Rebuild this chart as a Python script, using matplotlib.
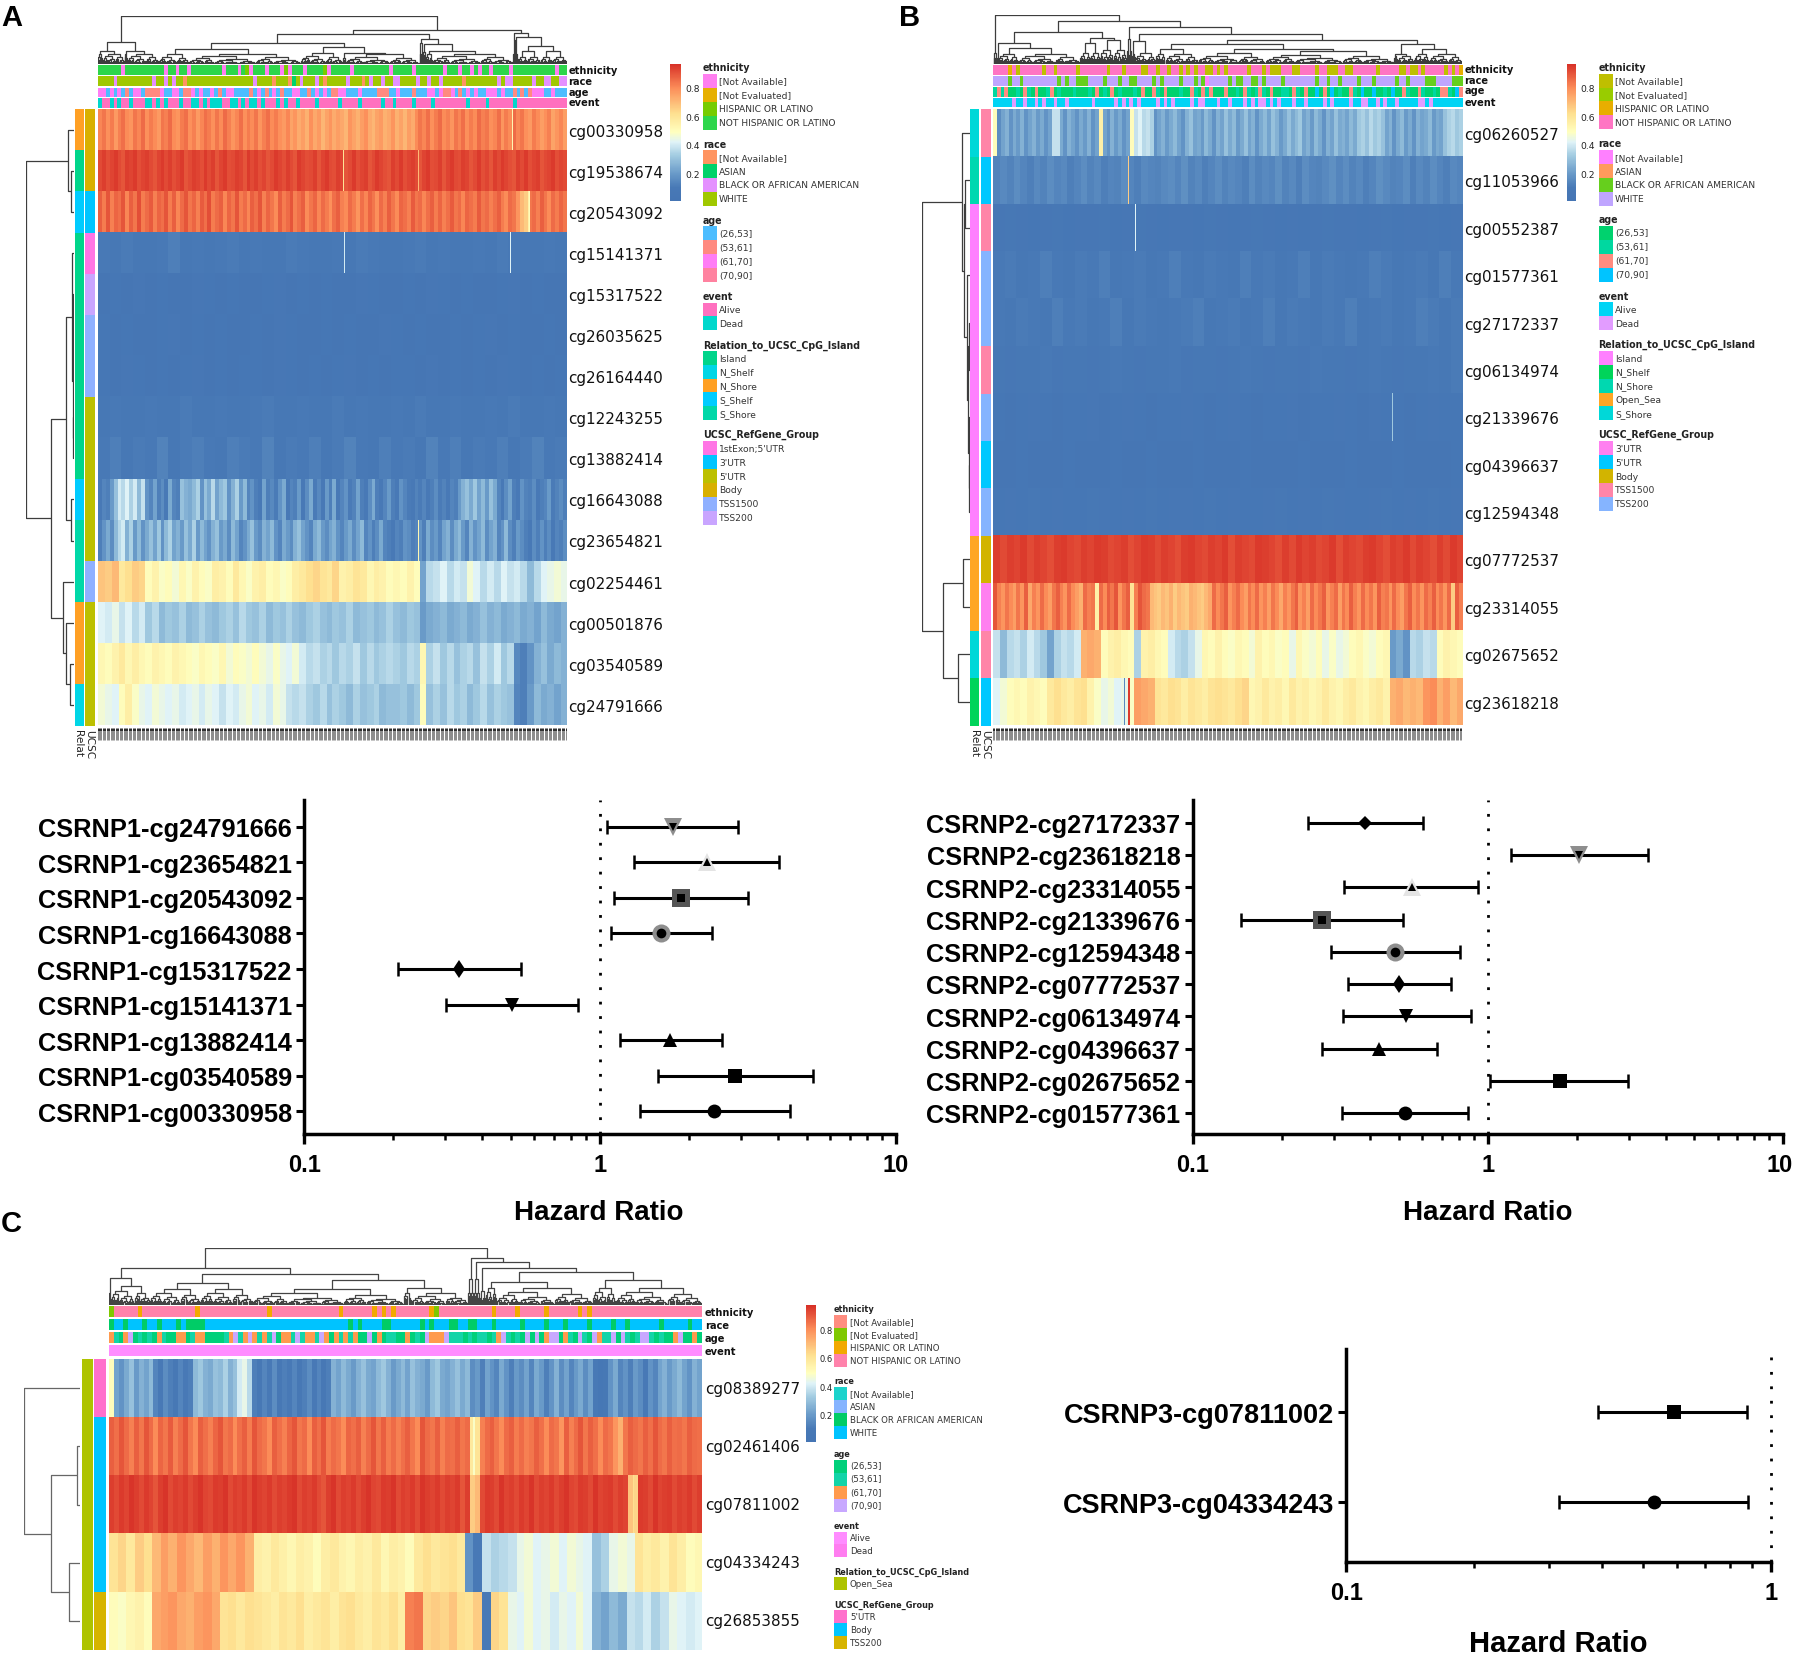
import numpy as np
import matplotlib
matplotlib.use("Agg")
import matplotlib.pyplot as plt
from matplotlib.collections import LineCollection
from matplotlib.colors import LinearSegmentedColormap, Normalize, to_rgb
from matplotlib.patches import Rectangle
from matplotlib.ticker import LogLocator, NullFormatter, FixedFormatter, FixedLocator
from matplotlib.cm import ScalarMappable
from matplotlib.transforms import ScaledTranslation

W, H = 1795, 1656

# ---------- heat-map values (percent methylation, read column band by column band) ----------
ROWS_A = ["cg00330958","cg19538674","cg20543092","cg15141371","cg15317522","cg26035625","cg26164440",
          "cg12243255","cg13882414","cg16643088","cg23654821","cg02254461","cg00501876","cg03540589","cg24791666"]
HEAT_A = [
 [81,84,79,83,77,82,85,80,78,84,81,86,79,83,80,77,84,82,86,80,78,83,85,79,82,77,81,85,83,79,84,80,86,82,78,81,85,79,83,80,84,78,82,85,80,83,79,77,81,75,78,73,76,72,79,74,77,71,75,78,73,76,74,71,78,75,72,76,79,73,71,75,77,72,74,78,72,75,71,76,73,80,84,81,85,79,83,86,80,82,78,84,81,85,79,83,80,86,82,84,79,81,85,78,83,80,86,81,84,79,77,83,80,76,79,82,75,78,81,76],
 [92,94,91,93,95,92,90,94,93,95,91,93,94,92,90,93,95,92,94,91,93,95,90,92,94,93,91,95,92,94,90,93,95,91,92,94,93,90,95,92,94,91,93,90,92,95,93,91,94,92,90,95,93,91,92,94,90,93,95,92,91,94,93,90,92,95,91,93,94,90,92,95,93,91,90,94,92,95,91,93,94,92,90,93,95,91,92,94,90,93,95,92,91,94,93,90,92,95,91,93,90,94,92,95,93,91,90,94,92,95,91,93,94,90,92,93,95,91,93,92],
 [88,83,90,82,87,85,90,81,88,84,91,83,86,89,82,87,85,90,83,88,81,86,90,84,87,82,89,85,91,83,86,88,81,87,84,90,83,86,81,88,85,90,82,87,84,80,88,83,86,90,82,85,88,80,84,87,81,86,83,79,85,88,82,80,86,83,78,85,81,87,84,79,86,82,88,84,80,87,85,82,89,84,86,81,85,88,83,87,82,85,89,84,86,81,87,85,83,89,84,86,82,85,88,83,80,86,84,78,70,66,84,86,82,88,84,80,86,83,87,84],
 [10,9,11,9,8,10,12,9,10,8,10,11,9,10,8,9,11,10,8,9,10,9,11,10,8,9,10,11,8,10,9,8,10,9,11,10,8,9,10,9],
 [5,6,5,7,5,6,5,5,7,6,5,6,5,5,6,7,5,6,5,6,5,5,7,6,5,5,6,5,7,6,5,6,5,5,6,7,5,6,5,5],
 [6,5,6,5,5,6,7,5,6,5,6,5,5,6,5,7,6,5,5,6,5,6,5,5,7,6,5,6,5,5,6,5,6,7,5,6,5,5,6,5],
 [6,5,7,6,5,6,5,6,7,5,6,5,6,6,5,7,6,5,6,5,6,7,5,6,5,6,6,5,7,5,6,5,6,5,7,6,5,6,5,6],
 [8,10,9,8,10,9,8,11,9,8,10,9,8,10,11,8,9,10,8,9,11,8,10,9,8,10,9,11,8,9,10,8,9,10,8,11,9,8,10,9],
 [10,12,9,11,10,13,9,11,12,10,9,12,11,10,13,9,11,10,12,9,11,13,10,9,12,10,11,9,13,10,12,9,11,10,12,9,11,13,10,11],
 [10,14,12,20,30,40,36,42,34,40,28,38,18,14,22,12,16,10,24,14,12,30,26,24,28,34,18,30,24,36,22,28,32,18,26,34,20,28,14,18,12,10,22,12,15,11,18,24,10,14,12,20,10,16,24,11,15,10,20,12,24,10,14,18,11,13,22,12,10,16,24,12,10,14,20,12,10,18,14,11,10,13,11,14,10,12,16,11,13,10,14,12,20,26,30,24,32,22,28,20,30,24,14,10,16,22,12,10,18,13,12,16,10,12,14,20,11,13,16,12],
 [12,18,24,16,28,36,40,26,34,20,28,18,24,30,22,32,18,28,34,22,26,20,30,24,34,20,28,22,18,26,30,20,24,16,28,22,14,18,24,30,20,16,26,22,28,18,14,24,20,16,26,30,22,18,14,24,28,20,16,22,26,18,14,20,24,16,22,28,14,18,12,16,24,14,12,10,14,12,18,16,12,14,18,12,24,16,20,14,22,26,16,24,28,20,14,26,18,22,28,16,22,26,14,18,28,16,12,20,16,12,10,16,12,18,12,16,10,14,12,16],
 [68,66,70,58,62,66,64,50,54,48,50,46,52,48,54,50,48,56,54,50,58,52,48,54,56,50,52,48,50,56,58,62,64,60,58,64,54,56,60,58,52,56,54,50,52,50,54,50,22,36,38,42,36,40,38,46,42,36,40,36,42,38,40,36,28,36,42,44,46,44],
 [42,40,44,38,42,36,40,32,36,28,32,30,34,28,30,34,30,28,32,34,30,36,32,30,34,28,32,30,34,30,28,32,34,30,28,32,30,34,28,30,32,28,30,34,30,28,32,30,20,24,26,28,24,26,28,24,26,30,26,28,24,26,28,24,26,22,28,24,22,26],
 [52,50,54,58,52,56,52,50,54,52,50,54,52,50,48,52,50,48,52,46,50,48,46,50,46,44,48,44,42,46,40,36,38,34,36,32,36,34,38,32,36,32,34,36,34,32,36,34,52,34,38,32,36,30,34,36,30,38,34,40,32,36,15,12,18,26,30,24,28,26],
 [46,44,42,50,56,48,44,42,46,44,42,44,40,42,44,40,44,42,38,42,40,44,46,42,44,40,46,44,38,36,38,34,32,36,30,34,32,28,34,30,32,34,28,30,30,32,28,32,50,30,34,30,36,32,34,28,32,36,30,34,32,30,14,12,20,28,24,26,22,26],
]
OUTLIERS_A_ROW = [1, 1, 0, 2, 2, 3, 3, 9, 10]
OUTLIERS_A_POS = [0.523, 0.684, 0.885, 0.918, 0.920, 0.526, 0.881, 0.682, 0.684]
OUTLIERS_A_VAL = [60, 70, 52, 55, 50, 40, 42, 46, 52]

ROWS_B = ["cg06260527","cg11053966","cg00552387","cg01577361","cg27172337","cg06134974","cg21339676",
          "cg04396637","cg12594348","cg07772537","cg23314055","cg02675652","cg23618218"]
HEAT_B = [
 [50,16,22,26,18,24,20,26,18,22,26,20,24,18,22,38,38,24,18,26,22,18,24,20,26,18,22,55,22,18,26,20,24,18,22,50,38,42,36,38,34,18,22,26,20,24,28,22,18,26,30,22,24,20,28,24,18,26,22,30,24,28,20,24,30,22,26,18,24,28,22,30,26,20,24,30,24,28,32,22,26,20,28,24,18,26,22,30,24,26,22,28,24,32,34,30,36,32,34,30,22,26,18,24,28,20,24,18,26,22,24,28,20,24,22,30,34,36,32,34],
 [13,15,13,16,14,12,15,13,16,14,15,12,14,16,13,15,12,14,13,16,14,12,15,14,13,15,16,14,17,13,15,12,14,16,13,15,14,12,16,13,15,14,17,13,15,12,16,14,13,15,17,14,16,13,15,12,14,17,15,13,14,16,12,15,13,16,14,12,15,14],
 [7,8,7,6,7,8,6,7,7,8,6,7,8,7,6,7,7,6,8,7,6,7,8,7,6,7,6,7,8,7,7,6,7,8,6,7,7,8,6,7],
 [10,11,9,10,12,10,9,11,10,12,9,10,11,9,10,12,10,9,11,10,9,12,10,11,9,10,12,9,11,10,9,10,12,11,9,10,11,9,12,10],
 [10,9,11,10,9,12,10,11,9,10,12,9,11,10,9,10,11,12,9,10,11,9,10,12,9,11,10,9,11,10,12,9,10,11,9,10,12,11,9,11],
 [8,7,9,8,10,7,8,9,7,8,10,8,7,9,8,10,7,9,8,7,9,10,8,7,8,9,7,10,8,9,7,8,10,9,7,8,9,10,8,11],
 [6,5,6,7,6,5,6,6,7,5,6,7,6,5,6,6,7,6,5,6,7,6,5,6,6,7,5,6,6,7,6,5,7,6,6,5,6,7,6,6],
 [5,5,6,5,4,5,6,5,5,4,6,5,5,6,4,5,5,6,5,4,5,6,5,4,5,5,6,4,5,5,6,5,5,4,6,5,5,4,5,6],
 [6,7,6,8,6,7,6,6,8,7,6,7,6,8,6,7,7,6,8,6,7,6,6,7,8,6,7,6,8,7,6,6,7,8,6,7,6,8,6,7],
 [94,92,94,93,95,92,94,93,91,94,95,93,92,94,93,95,94,92,93,94,91,93,95,94,92,94,93,91,94,95,93,92,94,93,95,91,94,93,92,95,94,93,91,94,92,95,93,94,92,93,95,91,94,93,92,94,95,93,91,94,93,95,92,94,93,91,94,92,95,93],
 [90,82,78,84,80,76,84,78,88,74,82,78,86,80,76,84,88,82,78,86,80,76,72,86,82,84,55,86,80,88,84,90,78,84,88,60,82,90,86,84,70,68,66,70,68,72,66,70,68,66,72,70,68,66,70,74,86,80,84,88,78,82,86,80,76,84,80,86,78,82,76,84,80,74,82,78,84,88,78,82,76,86,80,84,88,78,82,86,76,84,80,88,82,78,86,80,84,78,88,82,84,78,86,80,76,84,88,80,84,78,86,82,88,80,84,78,86,66,88,82],
 [38,28,36,38,34,40,36,32,22,34,38,36,40,72,74,72,50,54,56,52,50,34,54,56,52,50,40,36,34,38,44,52,50,54,50,48,52,50,46,54,50,52,48,50,44,52,48,46,50,44,48,44,46,50,52,48,46,50,52,20,24,18,36,34,38,36,50,54,52,50],
 [42,46,50,52,50,54,52,50,58,62,58,56,60,62,54,48,44,46,42,44,48,76,74,72,60,58,62,60,56,60,58,56,60,62,60,58,62,64,52,54,58,54,56,52,58,54,56,52,54,58,54,52,56,58,54,52,56,58,54,72,74,70,72,70,78,80,72,76,70,74],
]
OUTLIERS_B_ROW = [1, 2, 6, 12, 12, 12]
OUTLIERS_B_POS = [0.288, 0.304, 0.852, 0.281, 0.288, 0.291]
OUTLIERS_B_VAL = [66, 42, 32, 15, 95, 95]

ROWS_C = ["cg08389277","cg02461406","cg07811002","cg04334243","cg26853855"]
HEAT_C = [
 [50,22,18,24,30,20,26,22,28,14,10,16,12,8,14,10,12,28,32,26,24,30,28,34,26,30,40,44,36,12,8,14,10,16,8,12,10,14,8,12,16,10,14,8,12,26,22,28,24,20,26,30,24,22,28,32,26,20,24,28,22,30,26,24,20,28,32,24,22,26,30,24,28,16,20,12,22,18,14,24,18,12,20,16,22,14,24,20,12,18,26,16,22,14,20,24,16,22,10,6,8,18,24,14,18,12,20,16,10,18,14,22,26,20,24,28,22,18,26,22],
 [88,85,90,86,82,88,84,90,86,80,87,84,89,82,86,90,84,80,88,85,82,87,90,84,86,80,85,88,83,90,86,84,80,88,85,82,87,90,84,86,80,88,85,90,83,86,84,80,87,85,88,82,86,90,84,88,83,86,82,85,88,84,80,90,86,84,88,82,86,85,88,84,86,58,60,82,86,88,84,80,86,88,83,86,82,84,88,85,80,86,84,78,88,82,86,90,84,88,85,80,86,84,78,72,84,88,86,84,88,85,90,86,84,88,85,86,84,88,86,85],
 [94,92,95,93,96,94,92,95,93,90,94,96,92,94,93,95,92,94,96,93,92,95,94,96,92,94,93,95,92,96,94,93,95,92,94,93,95,96,92,94,93,95,92,90,94,96,92,94,93,95,92,94,96,93,92,95,94,96,92,94,93,95,92,96,94,93,95,92,94,93,95,90,94,66,70,92,95,94,92,96,93,94,92,95,93,96,92,94,93,95,92,94,96,93,92,95,94,92,96,93,94,95,92,94,93,68,64,95,94,92,96,93,94,95,92,94,93,95,92,94],
 [60,64,58,66,62,70,76,72,78,74,70,76,72,78,74,78,72,56,54,58,55,52,56,54,50,56,58,54,52,56,54,58,52,56,54,50,58,62,58,60,62,58,18,10,38,34,36,38,44,46,42,44,46,42,46,44,42,30,34,44,46,44,60,56,58,54,60,56,50,52],
 [50,48,52,54,50,74,76,78,74,72,76,78,74,60,62,58,62,60,58,56,60,58,62,56,58,60,56,60,62,58,56,60,58,62,56,82,84,64,66,64,68,62,60,66,10,64,60,44,42,46,42,44,40,44,42,46,42,26,22,28,24,38,36,40,34,38,44,42,40,42],
]
OUTLIERS_C_ROW = [1, 2]
OUTLIERS_C_POS = [0.615, 0.884]
OUTLIERS_C_VAL = [48, 62]

# ---------- row annotations (category index, top to bottom) ----------
REL_A = [2,0,3,0,0,0,0,0,0,3,4,4,2,2,1]
REF_A = [3,3,1,0,5,4,4,2,2,2,2,4,2,2,2]
REL_B = [4,2,0,0,0,0,0,0,0,3,3,4,1]
REF_B = [3,1,3,4,4,3,4,1,4,2,0,3,1]
REL_C = [0,0,0,0,0]
REF_C = [0,1,1,1,2]

# ---------- column annotations (one digit per column band; digit = legend position) ----------
ETH_A = "3333330333333333303303303333333303330320333033302033303333203333303333333330333330333333303330330303303333033333333333033"
RACE_A= "3333233333333323323233033333333333333333233330333013233323033333233303233233223333233233233333033333333232233333233223322"
AGE_A = "2202020102201111200220112020020102200001020102010022001020201122000200001110020001000220211201020200222020010101222002000"
EVT_A = "1001010010001101010001001101011100110101101000101001000010000010000100000100100001000010000000010000100000010000000000000"
ETH_B = "3333230333333033033333033333330333033330033033033030303300303033333033303000333003333033000330033333303333300300303333303032"
RACE_B= "3333233233333333323233222333323332332233332323333233323203333323223322323333233333333233233233332333233333233233332223333222"
AGE_B = "1212001021020012010001000102010201000102002102000100210212000200102101210200110210200302030100210300300103002100210010221032"
EVT_B = "0000010010010100100100000010000010101010000101010000101100010010001010110101000100100001010000100110010100100000110100000000"
ETH_C = "1333332333333333332333333333333332333333333333332333333232323333333213333333333323333233333233333323233333333333333333333333"
RACE_C= "2332333233233323222233333333333333333333333333333323233332233333323233322332233323333323333233323333233332332333333233333233"
AGE_C = "2102301010210022012200001231232121302213122132021212003020110020103222311101011012310103030233021031032113031013310100230020"
EVT_C = "0000000000000000000000000000000000000000000000000000000000000000000000000000000000000000000000000000000000000000000000000000"

# ---------- legends ----------
LEG_A = [("ethnicity",["[Not Available]","[Not Evaluated]","HISPANIC OR LATINO","NOT HISPANIC OR LATINO"],["#FF7FF0","#E6B000","#76CC00","#2DD64B"]),
         ("race",["[Not Available]","ASIAN","BLACK OR AFRICAN AMERICAN","WHITE"],["#FF9460","#00D26A","#E490FF","#A0C800"]),
         ("age",["(26,53]","(53,61]","(61,70]","(70,90]"],["#4DBDFF","#FF8A80","#FF7DF5","#FF82A0"]),
         ("event",["Alive","Dead"],["#FF70BF","#00D8CC"]),
         ("Relation_to_UCSC_CpG_Island",["Island","N_Shelf","N_Shore","S_Shelf","S_Shore"],["#00D58A","#00D6E6","#FFA024","#00CCFF","#00D8A8"]),
         ("UCSC_RefGene_Group",["1stExon;5'UTR","3'UTR","5'UTR","Body","TSS1500","TSS200"],["#FF75E5","#00C5FF","#BCC000","#D8B000","#8FB0FF","#C9A5FF"])]
LEG_B = [("ethnicity",["[Not Available]","[Not Evaluated]","HISPANIC OR LATINO","NOT HISPANIC OR LATINO"],["#BFBF00","#99CC00","#E8AE00","#FF75C3"]),
         ("race",["[Not Available]","ASIAN","BLACK OR AFRICAN AMERICAN","WHITE"],["#FF80FF","#FF9A5C","#66CF1D","#BFA5FF"]),
         ("age",["(26,53]","(53,61]","(61,70]","(70,90]"],["#00D26E","#00D8A0","#FF8C80","#00C4FF"]),
         ("event",["Alive","Dead"],["#00D4F5","#E29CFF"]),
         ("Relation_to_UCSC_CpG_Island",["Island","N_Shelf","N_Shore","Open_Sea","S_Shore"],["#FF80FF","#00D45A","#00D8B0","#FFA624","#00D8D8"]),
         ("UCSC_RefGene_Group",["3'UTR","5'UTR","Body","TSS1500","TSS200"],["#FF80F0","#00C8FF","#D2B400","#FF85A8","#85B4FF"])]
LEG_C = [("ethnicity",["[Not Available]","[Not Evaluated]","HISPANIC OR LATINO","NOT HISPANIC OR LATINO"],["#FF8D80","#7FC800","#F2A900","#FF82AB"]),
         ("race",["[Not Available]","ASIAN","BLACK OR AFRICAN AMERICAN","WHITE"],["#1BD3CC","#85B4FF","#00CC66","#00C3FF"]),
         ("age",["(26,53]","(53,61]","(61,70]","(70,90]"],["#00D07A","#12D4A8","#FF9A4D","#C8A8FF"]),
         ("event",["Alive","Dead"],["#FF8CFF","#FF7DF0"]),
         ("Relation_to_UCSC_CpG_Island",["Open_Sea"],["#AEC300"]),
         ("UCSC_RefGene_Group",["5'UTR","Body","TSS200"],["#FF70CC","#00C5FF","#D6B400"])]

# ---------- dendrograms: node=(height,left,right); cluster=(width,height); row leaf=int ----------
TREE_COL_A = (1.0,
  (.455,(.28,(14,.2),(66,.22)),(.28,(8,.2),(95,.22))),
  (.72,
    (.62,
      (.43,(.31,(90,.2),(335,.22)),(.35,(125,.24),(.24,(10,.12),(220,.2)))),
      (.525,(.45,(4,.2),(6,.2)),(.42,(8,.25),(.28,(20,.2),(242,.22))))),
    (.65,(.5,(4,.2),(4,.2)),(.56,(4,.2),(.385,(.27,(30,.15),(40,.15)),(.27,(35,.15),(44,.15)))))))
TREE_COL_B = (1.0,
  (.22,(5,.12),(7,.12)),
  (.868,
    (.653,
      (.43,(3,.1),(.326,(60,.2),(185,.2))),
      (.535,(.43,(30,.22),(30,.22)),(.486,(40,.28),(40,.28)))),
    (.743,(.5,(7,.25),(8,.25)),
      (.604,(.465,(10,.2),(60,.22)),
        (.486,
          (.396,(.3,(30,.2),(100,.2)),(.29,(200,.22),(385,.25))),
          (.41,(.2,(10,.15),(50,.15)),(.305,(45,.2),(100,.2))))))))
TREE_COL_C = (1.0,
  (.647,
    (.47,(4,.2),(101,.33)),
    (.54,(.376,(130,.28),(135,.28)),(.435,(385,.276),(.29,(20,.2),(145,.2))))),
  (.818,(.45,(7,.2),(8,.2)),
    (.76,(.45,(7,.2),(8,.2)),
      (.64,(.25,(7,.12),(8,.12)),
        (.57,(.394,(30,.3),(245,.3)),(.44,(60,.3),(220,.3)))))))
TREE_ROW_A = (1.0,(.117,0,(.069,1,2)),
  (.483,(.166,(.05,3,(.03,(.02,4,(.012,5,6)),(.015,7,8))),(.069,9,10)),(.234,11,(.166,12,(.083,13,14)))))
TREE_ROW_B = (1.0,(.152,0,(.11,(.1,1,2),(.05,3,(.03,(.02,4,5),(.02,6,(.012,7,8)))))),
  (.552,(.138,9,10),(.241,11,12)))
TREE_ROW_C = (1.0,0,(.523,(.045,1,2),(.205,3,4)))

# ---------- forest plots (hazard ratio, lower, upper) ----------
FA_LABELS = ["CSRNP1-cg00330958","CSRNP1-cg03540589","CSRNP1-cg13882414","CSRNP1-cg15141371","CSRNP1-cg15317522",
             "CSRNP1-cg16643088","CSRNP1-cg20543092","CSRNP1-cg23654821","CSRNP1-cg24791666"]
FA_HR = [2.44,2.86,1.73,0.505,0.334,1.61,1.88,2.30,1.77]
FA_LO = [1.37,1.57,1.17,0.302,0.208,1.09,1.12,1.30,1.06]
FA_HI = [4.39,5.25,2.58,0.840,0.542,2.40,3.17,4.03,2.94]
FB_LABELS = ["CSRNP2-cg01577361","CSRNP2-cg02675652","CSRNP2-cg04396637","CSRNP2-cg06134974","CSRNP2-cg07772537",
             "CSRNP2-cg12594348","CSRNP2-cg21339676","CSRNP2-cg23314055","CSRNP2-cg23618218","CSRNP2-cg27172337"]
FB_HR = [0.525,1.75,0.427,0.529,0.501,0.486,0.274,0.551,2.04,0.384]
FB_LO = [0.320,1.02,0.275,0.323,0.336,0.294,0.146,0.326,1.20,0.245]
FB_HI = [0.856,2.99,0.673,0.879,0.752,0.804,0.515,0.927,3.50,0.602]
FC_LABELS = ["CSRNP3-cg04334243","CSRNP3-cg07811002"]
FC_HR = [0.530,0.589]
FC_LO = [0.317,0.392]
FC_HI = [0.881,0.879]
MARKER_STYLES = ["o","s","^","v","d","og","sg","^l","vg","D"]

# ---------------------------------------------------------------------------
def _st(v):
    return (v-0.01)/0.96
CMAP = LinearSegmentedColormap.from_list("rdylbu",
        [(_st(.01),"#4575B4"),(_st(.10),"#4879B6"),(_st(.20),"#6A9BC9"),(_st(.33),"#A5CDE2"),(_st(.42),"#E0F3F8"),
         (_st(.49),"#FFFFBF"),(_st(.62),"#FEE090"),(_st(.80),"#FC8D59"),(_st(.97),"#D73027")])
NORM = Normalize(0.01, 0.97)
GRID = 480
SANS = "DejaVu Sans"
BOLD = "Liberation Sans"
DLW = 0.9

fig = plt.figure(figsize=(W/100, H/100), dpi=100, facecolor="white")

def axpx(x0, y0, x1, y1, **kw):
    return fig.add_axes([x0/W, 1-y1/H, (x1-x0)/W, (y1-y0)/H], **kw)

ov = fig.add_axes([0, 0, 1, 1], zorder=20)
ov.set_xlim(0, W); ov.set_ylim(H, 0); ov.axis("off"); ov.patch.set_alpha(0)

def heat(x0, y0, x1, y1, rows, row_out, pos_out, val_out):
    arr = np.zeros((len(rows), GRID))
    for i, r in enumerate(rows):
        r = np.asarray(r, float)
        arr[i] = r[(np.arange(GRID)*len(r)//GRID)]
    for r, p, v in zip(row_out, pos_out, val_out):
        arr[r, min(int(p*GRID), GRID-1)] = v
    ax = axpx(x0, y0, x1, y1)
    ax.imshow(arr/100, cmap=CMAP, norm=NORM, aspect="auto", interpolation="nearest")
    ax.axis("off")

def track(x0, y0, x1, y1, s, cols):
    rgb = np.array([[to_rgb(cols[int(c)]) for c in s]])
    ax = axpx(x0, y0, x1, y1)
    ax.imshow(rgb, aspect="auto", interpolation="nearest")
    ax.axis("off")

def expand(w, h, depth=0):
    """fine bushes of a dendrogram cluster, hanging from the cluster's top merge"""
    if w < 3.2:
        return (w,)
    f = .38 if depth % 2 else .6
    return (h, expand(w*f, h*.74, depth+1), expand(w*(1-f), h*.62, depth+1))

def layout(node, x, segs, size=None):
    if isinstance(node, int):            # row leaf
        return node + .5, 0.0, x
    if len(node) == 1:                   # single column band
        return x + node[0]/2, 0.0, x + node[0]
    if len(node) == 2:                   # cluster
        node = expand(node[0], node[1])
        if len(node) == 1:
            return x + node[0]/2, 0.0, x + node[0]
    h, l, r = node
    xl, hl, x = layout(l, x, segs)
    xr, hr, x = layout(r, x, segs)
    segs.append([(xl, hl), (xl, h), (xr, h), (xr, hr)])
    return (xl+xr)/2, h, x

def col_dendro(x0, y0, x1, y1, tree, color="#3d3d3d"):
    segs = []
    _, _, total = layout(tree, 0.0, segs)
    ax = axpx(x0, y0, x1, y1)
    ax.add_collection(LineCollection(segs, colors=color, linewidths=DLW))
    ax.set_xlim(0, total); ax.set_ylim(0, 1); ax.axis("off")

def row_dendro(x0, y0, x1, y1, tree, n, color="#3d3d3d"):
    segs = []
    layout(tree, 0.0, segs)
    segs = [[(h, y) for y, h in s] for s in segs]
    ax = axpx(x0, y0, x1, y1)
    ax.add_collection(LineCollection(segs, colors=color, linewidths=DLW))
    ax.set_xlim(1, 0); ax.set_ylim(n, 0); ax.axis("off")

def row_annot(x0, x1, y0, y1, idx, cols):
    h = (y1-y0)/len(idx)
    for i, k in enumerate(idx):
        ov.add_patch(Rectangle((x0, y0+i*h), x1-x0, h+.3, fc=cols[k], ec="none"))

def row_labels(x, y0, y1, names, size=10.9, dy=1.5):
    h = (y1-y0)/len(names)
    for i, n in enumerate(names):
        ov.text(x, y0+(i+.5)*h+dy, n, fontsize=size, family=SANS, va="center", ha="left", color="#111111")

def cbar(x0, y0, x1, y1, size=6.6):
    ax = axpx(x0, y0, x1, y1)
    cb = fig.colorbar(ScalarMappable(norm=NORM, cmap=CMAP), cax=ax, ticks=[.2, .4, .6, .8])
    cb.outline.set_visible(False)
    cb.ax.tick_params(length=0, labelsize=size, pad=3, labelcolor="#222222")
    return cb

def legend(x_sw, sw_w, x_txt, ys, sw_h, legs, size, hsize):
    k = 0
    for head, names, cols in legs:
        ov.text(x_sw, ys[k], head, fontsize=hsize, family=SANS, va="center", ha="left",
                color="#222222", fontweight="bold")
        k += 1
        for nm, c in zip(names, cols):
            ov.add_patch(Rectangle((x_sw, ys[k]-sw_h/2), sw_w, sw_h, fc=c, ec="none"))
            ov.text(x_txt, ys[k], nm, fontsize=size, family=SANS, va="center", ha="left", color="#333333")
            k += 1

def band(x0, x1, y0, y1, y2):
    xs = np.arange(x0, x1, 1.3)
    ov.vlines(xs, y0, y1, colors="#2a2a2a", linewidths=.7)
    ov.vlines(xs, y1, y2, colors="#8a8a8a", linewidths=.7)

def forest(x0, x1, ytop, ybot, y_first, dy, labels, hr, lo, hi, xlim, xticks, xticklabels,
           lab_size, tick_size, title_size, xlabel_xy, last_shift=0):
    ax = axpx(x0, ytop, x1, ybot)
    ax.set_xscale("log"); ax.set_xlim(*xlim)
    ax.set_ylim((y_first-ybot)/dy*1.0, (y_first-ytop)/dy)
    ys = np.arange(len(labels))
    ax.axvline(1, color="black", lw=2.0, ls=(0, (1, 4.2)), zorder=1, clip_on=False)
    for y, h, l, u, st in zip(ys, hr, lo, hi, MARKER_STYLES):
        ax.errorbar(h, y, xerr=[[h-l], [u-h]], fmt="none", ecolor="black", elinewidth=2.2,
                    capsize=4.7, capthick=1.8, zorder=3)
        m = st[0]
        if len(st) == 1:
            ax.plot(h, y, m, color="black", ms={"d": 9.5, "D": 7.6, "^": 9.5, "v": 9.5, "s": 10, "o": 10}[m], mew=0, zorder=4)
        else:
            outer = {"g": "#8e8e8e", "l": "#e4e4e4"}[st[1]]
            if m == "s":
                outer = "#555555"
            ax.plot(h, y, m, color=outer, ms=13 if m != "^" else 12.5, mew=0, zorder=4)
            ax.plot(h, y, m, color="black", ms=6 if m != "o" else 7, mew=0, zorder=5)
    for s in ("top", "right"):
        ax.spines[s].set_visible(False)
    for s in ("left", "bottom"):
        ax.spines[s].set_linewidth(2.5)
    ax.xaxis.set_major_locator(FixedLocator(xticks))
    ax.xaxis.set_major_formatter(FixedFormatter(xticklabels))
    ax.xaxis.set_minor_locator(LogLocator(base=10, subs=np.arange(2, 10), numticks=30))
    ax.xaxis.set_minor_formatter(NullFormatter())
    ax.tick_params(axis="x", which="major", length=7, width=2.4, pad=6.5)
    ax.tick_params(axis="x", which="minor", length=4.4, width=1.8)
    ax.set_yticks(ys); ax.set_yticklabels(labels)
    ax.tick_params(axis="y", length=6, width=2.2, pad=3)
    for t in ax.get_xticklabels():
        t.set_fontsize(tick_size); t.set_fontfamily(BOLD); t.set_fontweight("bold")
    for t in ax.get_yticklabels():
        t.set_fontsize(lab_size); t.set_fontfamily(BOLD); t.set_fontweight("bold")
    if last_shift:
        t = ax.get_xticklabels()[-1]
        t.set_transform(t.get_transform() + ScaledTranslation(last_shift/100, 0, fig.dpi_scale_trans))
    ax.patch.set_alpha(0)
    ov.text(xlabel_xy[0], xlabel_xy[1], "Hazard Ratio", fontsize=title_size, family=BOLD,
            fontweight="bold", ha="center", va="center", color="black")

# ---- panel A ----
AT, AB = 110.3, 726.3
col_dendro(97.6, 17.3, 566.6, 65, TREE_COL_A)
track(97.6, 66.2, 566.6, 76.1, ETH_A, LEG_A[0][2])
track(97.6, 77.1, 566.6, 87.1, RACE_A, LEG_A[1][2])
track(97.6, 88.5, 566.6, 97.5, AGE_A, LEG_A[2][2])
track(97.6, 98.7, 566.6, 108.7, EVT_A, LEG_A[3][2])
heat(97.6, AT, 566.6, AB, HEAT_A, OUTLIERS_A_ROW, OUTLIERS_A_POS, OUTLIERS_A_VAL)
row_dendro(26, AT, 74, AB, TREE_ROW_A, 15)
row_annot(74.6, 83.8, AT, AB, REL_A, LEG_A[4][2])
row_annot(85, 95.3, AT, AB, REF_A, LEG_A[5][2])
row_labels(568.5, AT, AB, ROWS_A)
band(97.6, 566.6, 728.7, 732, 741)
cbar(670, 64.7, 681, 201.5)
ys_a = [68.1,82.1,96,109.9,123.9,144.8,158.2,172.1,186,200,220.9,234.3,248.2,262.2,276.1,297,310.9,324.3,
        345.7,359.2,373.1,387,400.4,414.4,435.3,449.2,463.1,477.1,491,505,518.8]
legend(703, 14.4, 719, ys_a, 14, LEG_A, 6.55, 6.85)
for nm, y in zip(["ethnicity", "race", "age", "event"], [70.6, 81.6, 92.5, 103]):
    ov.text(568.5, y, nm, fontsize=7.1, family=SANS, fontweight="bold", va="center", color="#111111")
ov.text(78, 730, "Relat", rotation=-90, fontsize=7.6, family=SANS, va="top", ha="center", color="#222222")
ov.text(89, 730, "UCSC", rotation=-90, fontsize=7.6, family=SANS, va="top", ha="center", color="#222222")

# ---- panel B ----
col_dendro(993, 16, 1462.2, 64.5, TREE_COL_B)
track(993, 65.7, 1462.2, 75.6, ETH_B, LEG_B[0][2])
track(993, 76.6, 1462.2, 86.6, RACE_B, LEG_B[1][2])
track(993, 88, 1462.2, 97.5, AGE_B, LEG_B[2][2])
track(993, 98.5, 1462.2, 108, EVT_B, LEG_B[3][2])
heat(993, AT, 1462.2, AB, HEAT_B, OUTLIERS_B_ROW, OUTLIERS_B_POS, OUTLIERS_B_VAL)
row_dendro(921.7, AT, 969.6, AB, TREE_ROW_B, 13)
row_annot(970.2, 979.3, AT, AB, REL_B, LEG_B[4][2])
row_annot(981, 991.3, AT, AB, REF_B, LEG_B[5][2])
row_labels(1464.5, AT, AB, ROWS_B)
band(993, 1462.2, 728.7, 732, 741)
cbar(1566.7, 64.7, 1576.4, 201.5)
ys_b = [67.7,81.6,95.5,109.4,123.4,144.3,158.2,172.1,186,199.5,220.4,233.8,247.7,261.7,275.6,296.5,310.4,324.3,
        345.2,359.2,373.1,387,400.9,414.4,435.3,449.2,463.1,477.1,491,505]
legend(1598.6, 14, 1615, ys_b, 14, LEG_B, 6.55, 6.85)
for nm, y in zip(["ethnicity", "race", "age", "event"], [70.1, 80.6, 91.5, 102.5]):
    ov.text(1464.5, y, nm, fontsize=7.1, family=SANS, fontweight="bold", va="center", color="#111111")
ov.text(974, 730, "Relat", rotation=-90, fontsize=7.6, family=SANS, va="top", ha="center", color="#222222")
ov.text(985, 730, "UCSC", rotation=-90, fontsize=7.6, family=SANS, va="top", ha="center", color="#222222")

# ---- panel C ----
col_dendro(109, 1249, 701.5, 1305.7, TREE_COL_C, "#444444")
track(109, 1307.3, 701.5, 1318, ETH_C, LEG_C[0][2])
track(109, 1320, 701.5, 1330.7, RACE_C, LEG_C[1][2])
track(109, 1333.3, 701.5, 1344, AGE_C, LEG_C[2][2])
track(109, 1346, 701.5, 1357, EVT_C, LEG_C[3][2])
heat(109, 1360, 701.5, 1651, HEAT_C, OUTLIERS_C_ROW, OUTLIERS_C_POS, OUTLIERS_C_VAL)
row_dendro(24, 1360, 80, 1651, TREE_ROW_C, 5, "#666666")
row_annot(81.6, 93, 1360, 1651, REL_C, LEG_C[4][2])
row_annot(94.4, 105.9, 1360, 1651, REF_C, LEG_C[5][2])
row_labels(704.7, 1360, 1651, ROWS_C, dy=0)
cbar(806, 1306, 815.7, 1442.7, 6.0)
ys_c = [1309.7,1322.7,1335.7,1348.7,1361.7,1382,1394.7,1407.7,1420.7,1433.7,1454.3,1467,1480,1493.3,1506.3,
        1526.3,1539,1552,1572,1585,1605,1618,1631,1644]
legend(834, 13, 850, ys_c, 13, LEG_C, 6.25, 5.9)
for nm, y in zip(["ethnicity", "race", "age", "event"], [1313, 1326, 1339, 1352]):
    ov.text(705, y, nm, fontsize=7.1, family=SANS, fontweight="bold", va="center", color="#111111")

# ---- forests ----
forest(304.3, 895.5, 800.7, 1135, 1112.3, 35.57, FA_LABELS, FA_HR, FA_LO, FA_HI, (.1, 10),
       [.1, 1, 10], ["0.1", "1", "10"], 18.3, 17, 20, (599, 1213.5))
forest(1192.8, 1783, 800.7, 1135, 1114, 32.25, FB_LABELS, FB_HR, FB_LO, FB_HI, (.1, 10),
       [.1, 1, 10], ["0.1", "1", "10"], 18.3, 17, 20, (1487.9, 1213.5), last_shift=-3)
forest(1346.3, 1771.3, 1350, 1563.3, 1503.3, 90.6, FC_LABELS, FC_HR, FC_LO, FC_HI, (.1, 1),
       [.1, 1], ["0.1", "1"], 19.5, 17, 21, (1558, 1644))

# ---- panel letters ----
for s, x, y in [("A", 1, 18), ("B", 899, 18), ("C", 1, 1224)]:
    ov.text(x, y, s, fontsize=21, family=BOLD, fontweight="bold", va="center", ha="left", color="black")

fig.savefig("out.png", dpi=100, facecolor="white")
